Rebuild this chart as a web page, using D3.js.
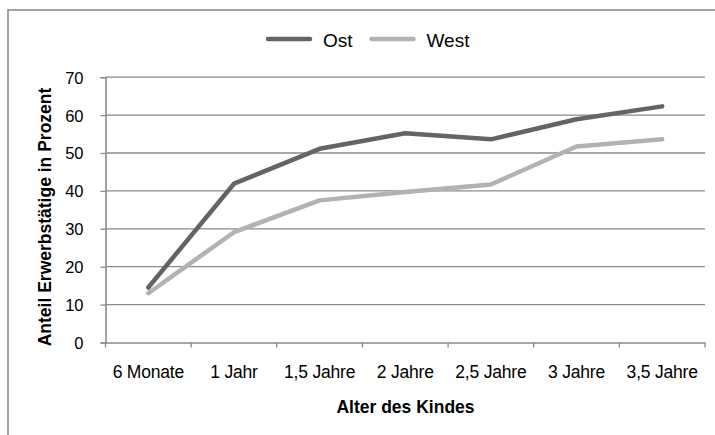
<!DOCTYPE html>
<html><head><meta charset="utf-8">
<script src="https://cdn.jsdelivr.net/npm/d3@7"></script>
<style>body{margin:0;background:#fff}svg{display:block;font-family:"Liberation Sans",Arial,sans-serif}</style>
</head><body>
<svg id="c" width="715" height="435"></svg>
<script>
const categories = ["6 Monate","1 Jahr","1,5 Jahre","2 Jahre","2,5 Jahre","3 Jahre","3,5 Jahre"];
const ost = [14.5, 41.9, 51.1, 55.2, 53.6, 58.9, 62.3];
const west = [13.0, 29.1, 37.5, 39.7, 41.7, 51.7, 53.6];
const yTicks = [0,10,20,30,40,50,60,70];
const seriesNames = ["Ost","West"];
const colors = ["#646464","#b2b2b2"];
const FONT = "Liberation Sans, Arial, sans-serif";

const svg = d3.select("#c");
svg.append("rect").attr("x",8).attr("y",10).attr("width",720).attr("height",440)
  .attr("fill","#fff").attr("stroke","#8c8c8c").attr("stroke-width",1.6);

const x = d3.scaleBand().domain(categories).range([105.5,705]);
const y = d3.scaleLinear().domain([0,70]).range([342.5,77.2]);

// gridlines
svg.append("g").selectAll("line").data(yTicks.filter(d=>d>0)).join("line")
  .attr("x1",105.5).attr("x2",705).attr("y1",d=>y(d)).attr("y2",d=>y(d))
  .attr("stroke","#8a8a8a").attr("stroke-width",1.3);

const yAxis = svg.append("g").attr("transform","translate(105.5,0)")
  .call(d3.axisLeft(y).tickValues(yTicks).tickSize(5).tickPadding(17));
yAxis.select(".domain").attr("stroke","#8a8a8a").attr("stroke-width",1.6);
yAxis.selectAll(".tick line").attr("stroke","#8a8a8a").attr("stroke-width",1.3);
yAxis.selectAll("text").attr("font-size",16.5).attr("fill","#000").attr("font-family",FONT).attr("dy","0.36em");

const xAxis = svg.append("g").attr("transform","translate(0,342.5)")
  .call(d3.axisBottom(x).tickSize(0));
xAxis.select(".domain").attr("stroke","#8a8a8a").attr("stroke-width",1.6);
xAxis.selectAll("text").attr("font-size",17.5).attr("fill","#000").attr("font-family",FONT)
  .attr("y",35.2).attr("dy",null).style("letter-spacing","-0.2px");
// category boundary ticks
const bounds = categories.map(c=>x(c)).concat([x.range()[1]]);
svg.append("g").selectAll("line").data(bounds).join("line")
  .attr("x1",d=>d).attr("x2",d=>d).attr("y1",342.5).attr("y2",347.5)
  .attr("stroke","#8a8a8a").attr("stroke-width",1.3);

const line = d3.line().x((d,i)=>x(categories[i])+x.bandwidth()/2).y(d=>y(d));
[ost,west].forEach((s,k)=>{
  svg.append("path").datum(s).attr("d",line).attr("fill","none")
    .attr("stroke",colors[k]).attr("stroke-width",4.5)
    .attr("stroke-linecap","round").attr("stroke-linejoin","round");
});

// axis titles
svg.append("text").attr("x",405.5).attr("y",413.3).attr("text-anchor","middle")
  .attr("font-size",17.5).attr("font-weight","bold").text("Alter des Kindes");
svg.append("text").attr("transform","translate(50.5,217) rotate(-90)").attr("text-anchor","middle")
  .attr("font-size",17.5).attr("font-weight","bold").text("Anteil Erwerbstätige in Prozent");

// legend
const legX = [268,371.5];
seriesNames.forEach((n,k)=>{
  const lx = legX[k];
  svg.append("line").attr("x1",lx).attr("x2",lx+42).attr("y1",39).attr("y2",39)
    .attr("stroke",colors[k]).attr("stroke-width",4.5).attr("stroke-linecap","round");
  svg.append("text").attr("x",lx+55).attr("y",47.3).attr("font-size",19).text(n);
});
</script>
</body></html>
